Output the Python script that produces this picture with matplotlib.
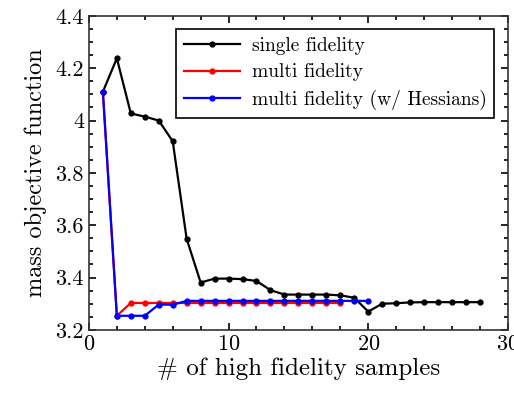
"""Mass objective vs number of high fidelity samples."""

import matplotlib

matplotlib.use("Agg")
import matplotlib.pyplot as plt
from matplotlib.ticker import MultipleLocator

plt.rcParams["font.family"] = "serif"
plt.rcParams["font.serif"] = ["cmr10", "DejaVu Serif"]
plt.rcParams["mathtext.fontset"] = "cm"
plt.rcParams["axes.unicode_minus"] = False
plt.rcParams["axes.formatter.use_mathtext"] = True

# data
single_x = list(range(1, 29))
single_y = [4.11, 4.238, 4.027, 4.015, 4.0, 3.921, 3.548, 3.381, 3.396, 3.396,
            3.394, 3.387, 3.352, 3.335, 3.335, 3.335, 3.335, 3.332, 3.323, 3.27,
            3.30, 3.302, 3.305, 3.306, 3.306, 3.306, 3.306, 3.306]
multi_x = list(range(1, 19))
multi_y = [4.11, 3.254] + [3.303] * 16
hess_x = list(range(1, 21))
hess_y = [4.11, 3.254, 3.254, 3.254, 3.297, 3.296, 3.311, 3.311, 3.311, 3.311,
          3.311, 3.311, 3.311, 3.311, 3.311, 3.311, 3.311, 3.311, 3.311, 3.311]
y_ticks = [3.2, 3.4, 3.6, 3.8, 4.0, 4.2, 4.4]
y_labels = ["3.2", "3.4", "3.6", "3.8", "4", "4.2", "4.4"]

series = [
    ("single fidelity", single_x, single_y, "black"),
    ("multi fidelity", multi_x, multi_y, "red"),
    ("multi fidelity (w/ Hessians)", hess_x, hess_y, "blue"),
]

fig = plt.figure(figsize=(5.14, 3.97), dpi=100)
ax = fig.add_axes([0.173, 0.169, 0.815, 0.791])

for label, xs, ys, color in series:
    ax.plot(xs, ys, color=color, lw=1.6, marker="o", ms=3.5, label=label)

ax.set_xlim(0, 30)
ax.set_ylim(3.2, 4.4)
ax.xaxis.set_major_locator(MultipleLocator(10))
ax.xaxis.set_minor_locator(MultipleLocator(2))
ax.set_yticks(y_ticks)
ax.set_yticklabels(y_labels)
ax.yaxis.set_minor_locator(MultipleLocator(0.05))
ax.tick_params(which="both", direction="in", top=True, right=True, labelsize=16, width=1.2)
ax.tick_params(which="major", length=5)
ax.tick_params(which="minor", length=3)
for s in ax.spines.values():
    s.set_linewidth(1.2)
    s.set_color("#333333")

ax.set_xlabel("# of high fidelity samples", fontsize=18, labelpad=2)
ax.set_ylabel("mass objective function", fontsize=17.5, labelpad=6)

leg = ax.legend(loc="upper right", fontsize=14, fancybox=False, framealpha=1,
                edgecolor="black", handlelength=2.9, borderpad=0.4, labelspacing=0.42,
                handletextpad=0.6, borderaxespad=0.7)
leg.get_frame().set_linewidth(1.2)

fig.savefig("out.png", dpi=100)
